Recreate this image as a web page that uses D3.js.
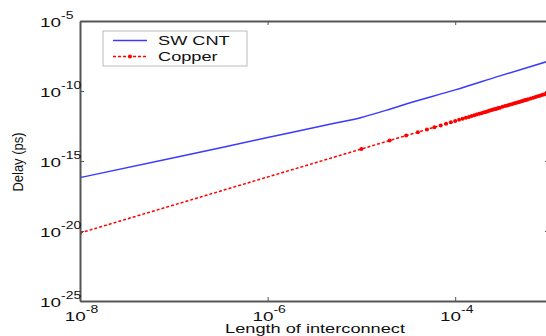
<!DOCTYPE html>
<html>
<head>
<meta charset="utf-8">
<script src="https://cdn.jsdelivr.net/npm/d3@7"></script>
<style>
  body { margin: 0; background: #fff; }
  svg { display: block; font-family: "Liberation Sans", Arial, sans-serif; }
</style>
</head>
<body>
<svg id="chart" width="546" height="336"></svg>
<script>
// SW CNT delay vs length
const cntLength = [1e-8, 1e-7, 1e-6, 5e-6, 1e-5, 2e-5, 3e-5, 1e-4, 3e-4, 1e-3];
const cntDelay = [6.5e-17, 1.7e-15, 4.7e-14, 4.7e-13, 1.3e-12, 5.0e-12, 1.17e-11, 1.2e-10, 1.2e-9, 1.4e-8];

// Copper delay vs length (markers along the dotted line)
const copperLength = [1e-8,
  1e-5, 2e-5, 3e-5, 4e-5, 5e-5, 6e-5, 7e-5, 8e-5, 9e-5, 10e-5,
  11e-5, 12e-5, 13e-5, 14e-5, 15e-5, 16e-5, 17e-5, 18e-5, 19e-5, 20e-5,
  21e-5, 22e-5, 23e-5, 24e-5, 25e-5, 26e-5, 27e-5, 28e-5, 29e-5, 30e-5,
  32e-5, 34e-5, 36e-5, 38e-5, 40e-5, 42e-5, 44e-5, 46e-5, 48e-5, 50e-5,
  52e-5, 54e-5, 56e-5, 58e-5, 60e-5, 64e-5, 68e-5, 72e-5, 76e-5, 80e-5,
  84e-5, 88e-5, 92e-5, 96e-5, 100e-5];
const copperDelay = [7.2e-21,
  7.2e-15, 2.9e-14, 6.5e-14, 1.15e-13, 1.8e-13, 2.6e-13, 3.5e-13, 4.6e-13, 5.8e-13, 7.2e-13,
  8.7e-13, 1.04e-12, 1.22e-12, 1.41e-12, 1.62e-12, 1.84e-12, 2.08e-12, 2.33e-12, 2.6e-12, 2.88e-12,
  3.18e-12, 3.49e-12, 3.81e-12, 4.15e-12, 4.5e-12, 4.87e-12, 5.25e-12, 5.65e-12, 6.06e-12, 6.48e-12,
  7.37e-12, 8.32e-12, 9.33e-12, 1.04e-11, 1.15e-11, 1.27e-11, 1.39e-11, 1.52e-11, 1.66e-11, 1.8e-11,
  1.95e-11, 2.1e-11, 2.26e-11, 2.42e-11, 2.59e-11, 2.95e-11, 3.33e-11, 3.73e-11, 4.16e-11, 4.61e-11,
  5.08e-11, 5.58e-11, 6.09e-11, 6.64e-11, 7.2e-11];

const xTicks = [1e-8, 1e-6, 1e-4];
const yTicks = [1e-25, 1e-20, 1e-15, 1e-10, 1e-5];
const seriesNames = ["SW CNT", "Copper"];

const svg = d3.select("#chart");
const plotLeft = 80, plotRight = 549, plotTop = 21, plotBottom = 301;
const stretch = 1.4; // text in the picture is wide
const axisColor = "#555";

const x = d3.scaleLog().domain([1e-8, 1e-3]).range([plotLeft, plotRight]);
const y = d3.scaleLog().domain([1e-25, 1e-5]).range([plotBottom, plotTop]);

svg.append("clipPath").attr("id", "plot-clip")
  .append("rect")
  .attr("x", plotLeft).attr("y", plotTop)
  .attr("width", plotRight - plotLeft).attr("height", plotBottom - plotTop);

const plot = svg.append("g").attr("clip-path", "url(#plot-clip)");

// blue CNT curve
const cntLine = d3.line()
  .x((d, i) => x(cntLength[i]))
  .y(d => y(d))
  .curve(d3.curveMonotoneX);

plot.append("path")
  .attr("d", cntLine(cntDelay))
  .attr("fill", "none")
  .attr("stroke", "#3a3aff")
  .attr("stroke-width", 1.5);

// red copper dotted line with point markers
const copperLine = d3.line()
  .x((d, i) => x(copperLength[i]))
  .y(d => y(d));

plot.append("path")
  .attr("d", copperLine(copperDelay))
  .attr("fill", "none")
  .attr("stroke", "#ff0000")
  .attr("stroke-width", 1.5)
  .attr("stroke-dasharray", "3,2");

plot.selectAll("circle.copper")
  .data(copperDelay)
  .join("circle")
  .attr("class", "copper")
  .attr("cx", (d, i) => x(copperLength[i]))
  .attr("cy", d => y(d))
  .attr("r", 2)
  .attr("fill", "#ff0000");

// axes: ticks pointing inward, box on
function styleAxis(g) {
  g.select(".domain").attr("stroke", axisColor).attr("stroke-width", 2);
  g.selectAll(".tick line").attr("stroke", axisColor).attr("stroke-width", 1);
}

const gLeft = svg.append("g").attr("transform", `translate(${plotLeft},0)`)
  .call(d3.axisLeft(y).tickValues(yTicks).tickSizeInner(-4).tickSizeOuter(0).tickFormat(""))
  .call(styleAxis);
svg.append("g").attr("transform", `translate(${plotRight},0)`)
  .call(d3.axisRight(y).tickValues(yTicks).tickSizeInner(-4).tickSizeOuter(0).tickFormat(""))
  .call(styleAxis);
const gBottom = svg.append("g").attr("transform", `translate(0,${plotBottom})`)
  .call(d3.axisBottom(x).tickValues(xTicks).tickSizeInner(-4).tickSizeOuter(0).tickFormat(""))
  .call(styleAxis);
svg.append("g").attr("transform", `translate(0,${plotTop})`)
  .call(d3.axisTop(x).tickValues(xTicks).tickSizeInner(-4).tickSizeOuter(0).tickFormat(""))
  .call(styleAxis);

// power-of-ten labels with superscript
function powerLabel(text, v) {
  const exp = Math.round(Math.log10(v));
  text.append("tspan").text("10");
  text.append("tspan").attr("dy", -8).attr("font-size", 10).text(exp);
}

gLeft.selectAll(".tick").each(function(d) {
  const t = d3.select(this).append("text")
    .attr("transform", `translate(-40,5) scale(${stretch},1)`)
    .attr("text-anchor", "start")
    .attr("fill", "#111")
    .attr("font-size", 13.5);
  powerLabel(t, d);
});

gBottom.selectAll(".tick").each(function(d) {
  const t = d3.select(this).append("text")
    .attr("transform", `translate(1,19.5) scale(${stretch},1)`)
    .attr("text-anchor", "middle")
    .attr("fill", "#111")
    .attr("font-size", 13.5);
  powerLabel(t, d);
});

// axis titles
svg.append("text")
  .attr("transform", `translate(315,333) scale(${stretch},1)`)
  .attr("text-anchor", "middle")
  .attr("font-size", 13)
  .attr("fill", "#111")
  .text("Length of interconnect");

svg.append("text")
  .attr("transform", "translate(23,162) scale(1.1,1) rotate(-90)")
  .attr("text-anchor", "middle")
  .attr("font-size", 13)
  .attr("fill", "#111")
  .text("Delay (ps)");

// legend
const legend = svg.append("g");
legend.append("rect")
  .attr("x", 103).attr("y", 31)
  .attr("width", 144).attr("height", 35)
  .attr("fill", "#fff")
  .attr("stroke", "#bbb")
  .attr("stroke-width", 1);

legend.append("line")
  .attr("x1", 113).attr("x2", 147).attr("y1", 40.5).attr("y2", 40.5)
  .attr("stroke", "#3a3aff").attr("stroke-width", 1.5);
legend.append("line")
  .attr("x1", 113).attr("x2", 147).attr("y1", 56.5).attr("y2", 56.5)
  .attr("stroke", "#ff0000").attr("stroke-width", 1.5)
  .attr("stroke-dasharray", "3,2");
legend.append("circle")
  .attr("cx", 130).attr("cy", 56.5).attr("r", 2)
  .attr("fill", "#ff0000");

legend.selectAll("text.name")
  .data(seriesNames)
  .join("text")
  .attr("class", "name")
  .attr("transform", (d, i) => `translate(158,${45 + i * 15.5}) scale(${stretch},1)`)
  .attr("font-size", 13)
  .attr("fill", "#111")
  .text(d => d);
</script>
</body>
</html>
